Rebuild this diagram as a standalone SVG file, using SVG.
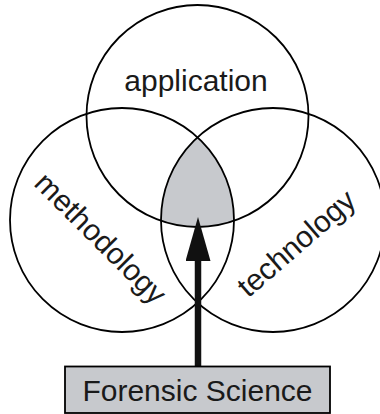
<svg xmlns="http://www.w3.org/2000/svg" width="380" height="414" viewBox="0 0 380 414">
<style>
.c{fill:none;stroke:#000;stroke-width:1.8}
.t{font-family:"Liberation Sans",Arial,sans-serif;font-size:30px;fill:#1a1a1a;text-anchor:middle}
.sh{fill:#c7c9cd;stroke:none}
</style>
<defs>
<marker id="ah" markerUnits="userSpaceOnUse" markerWidth="44" markerHeight="25" viewBox="0 0 44 25" refX="0" refY="12.5" orient="auto">
<path d="M0,0 L44,12.5 L0,25 z" fill="#111"/>
</marker>
</defs>
<rect width="380" height="414" fill="#fff"/>
<path id="overlap" class="sh" d="M197.5,137.3 A112,112 0 0 0 161,220.8 A111,111 0 0 0 234,220.8 A112,112 0 0 0 197.5,137.3 Z"/>
<g id="application">
<circle class="c" cx="197.5" cy="116" r="111"/>
<text class="t" x="196" y="91">application</text>
</g>
<g id="methodology">
<circle class="c" cx="122" cy="220" r="112"/>
<text class="t" x="93.5" y="245.5" transform="rotate(45 93.5 245.5)">methodology</text>
</g>
<g id="technology">
<circle class="c" cx="273" cy="220" r="112"/>
<text class="t" x="303" y="251" transform="rotate(-41 303 251)">technology</text>
</g>
<g id="connectors">
<line x1="198" y1="366" x2="198" y2="261" stroke="#111" stroke-width="6.5" marker-end="url(#ah)"/>
</g>
<g id="forensic">
<rect x="65" y="366.5" width="265" height="46.5" fill="#c7c9cd" stroke="#000" stroke-width="1.8"/>
<text class="t" x="197.5" y="401">Forensic Science</text>
</g>
</svg>
